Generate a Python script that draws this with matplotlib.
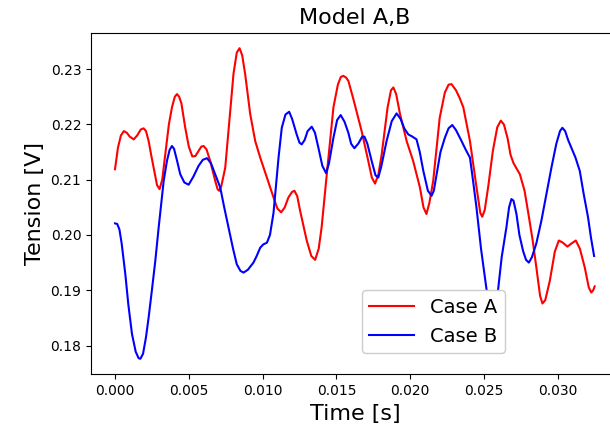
import numpy as np
import matplotlib
matplotlib.use("Agg")
import matplotlib.pyplot as plt

# Case A (red): time in ms, tension in V
time_a_ms = [0.0, 0.2, 0.4, 0.6, 0.8, 1.0, 1.27, 1.5, 1.75, 1.94, 2.1, 2.28, 2.45, 2.62,
             2.85, 3.02, 3.2, 3.41, 3.65, 3.86, 4.05, 4.2, 4.35, 4.5, 4.76, 5.0, 5.24,
             5.45, 5.66, 5.85, 6.0, 6.2, 6.45, 6.79, 6.95, 7.06, 7.2, 7.47, 7.69, 8.03,
             8.25, 8.44, 8.62, 8.82, 9.16, 9.5, 9.84, 10.29, 10.74, 11.0, 11.26, 11.5,
             11.75, 12.0, 12.16, 12.35, 12.54, 12.99, 13.3, 13.56, 13.8, 14.0, 14.35, 14.8,
             15.1, 15.3, 15.47, 15.65, 15.81, 16.15, 16.71, 17.16, 17.4, 17.62, 17.85,
             18.07, 18.47, 18.7, 18.86, 19.05, 19.31, 19.76, 20.2, 20.66, 20.9, 21.1, 21.3,
             21.56, 22.0, 22.35, 22.6, 22.8, 23.1, 23.35, 23.6, 24.05, 24.5, 24.75, 24.88,
             25.05, 25.3, 25.6, 25.9, 26.14, 26.35, 26.6, 26.8, 27.0, 27.43, 27.75, 28.0,
             28.3, 28.55, 28.8, 28.96, 29.15, 29.46, 29.8, 30.07, 30.35, 30.65, 30.95,
             31.22, 31.5, 31.83, 32.1, 32.27, 32.4, 32.5]
case_a = [0.2119, 0.2158, 0.2180, 0.2188, 0.2185, 0.2178, 0.2173, 0.2180, 0.2191, 0.2193,
          0.2188, 0.2170, 0.2145, 0.2122, 0.2090, 0.2083, 0.2100, 0.2146, 0.2200, 0.2231,
          0.2250, 0.2255, 0.2250, 0.2238, 0.2194, 0.2160, 0.2142, 0.2143, 0.2152, 0.2160,
          0.2161, 0.2155, 0.2134, 0.2098, 0.2083, 0.2080, 0.2088, 0.2122, 0.2188, 0.2292,
          0.2330, 0.2338, 0.2325, 0.2291, 0.2219, 0.2170, 0.2140, 0.2104, 0.2068, 0.2048,
          0.2041, 0.2050, 0.2068, 0.2078, 0.2080, 0.2070, 0.2044, 0.1990, 0.1962, 0.1955,
          0.1975, 0.2014, 0.2110, 0.2231, 0.2272, 0.2286, 0.2288, 0.2285, 0.2279, 0.2246,
          0.2188, 0.2134, 0.2104, 0.2093, 0.2110, 0.2146, 0.2231, 0.2262, 0.2267, 0.2255,
          0.2219, 0.2170, 0.2134, 0.2086, 0.2050, 0.2038, 0.2058, 0.2098, 0.2212, 0.2258,
          0.2272, 0.2273, 0.2262, 0.2248, 0.2231, 0.2170, 0.2085, 0.2040, 0.2033, 0.2045,
          0.2090, 0.2152, 0.2195, 0.2207, 0.2200, 0.2175, 0.2145, 0.2130, 0.2110, 0.2080,
          0.2040, 0.1990, 0.1941, 0.1890, 0.1876, 0.1882, 0.1917, 0.1970, 0.1990, 0.1986,
          0.1979, 0.1985, 0.1990, 0.1975, 0.1941, 0.1905, 0.1896, 0.1900, 0.1907]

# Case B (blue)
time_b_ms = [0.0, 0.15, 0.3, 0.45, 0.7, 0.9, 1.15, 1.4, 1.6, 1.72, 1.9, 2.1, 2.28, 2.5,
             2.73, 2.96, 3.3, 3.52, 3.7, 3.86, 4.0, 4.2, 4.42, 4.7, 4.99, 5.3, 5.66, 5.95,
             6.23, 6.5, 6.79, 7.13, 7.4, 7.69, 8.0, 8.25, 8.5, 8.71, 9.0, 9.38, 9.6, 9.84,
             10.05, 10.29, 10.5, 10.74, 11.08, 11.3, 11.55, 11.8, 12.0, 12.31, 12.5, 12.65,
             12.85, 13.05, 13.33, 13.55, 13.78, 14.05, 14.3, 14.5, 14.8, 15.05, 15.29,
             15.55, 15.81, 16.0, 16.22, 16.5, 16.75, 16.9, 17.1, 17.39, 17.65, 17.84, 18.05,
             18.4, 18.75, 19.08, 19.35, 19.6, 19.87, 20.15, 20.43, 20.65, 20.89, 21.2,
             21.45, 21.6, 21.79, 22.05, 22.35, 22.6, 22.85, 23.1, 23.48, 23.75, 24.05,
             24.25, 24.49, 24.8, 25.17, 25.55, 25.96, 26.2, 26.52, 26.7, 26.86, 27.0, 27.2,
             27.4, 27.65, 27.85, 28.04, 28.25, 28.55, 28.89, 29.2, 29.57, 29.9, 30.15,
             30.31, 30.5, 30.7, 30.92, 31.2, 31.49, 31.75, 32.05, 32.25, 32.46]
case_b = [0.2021, 0.2020, 0.2010, 0.1985, 0.1929, 0.1875, 0.1821, 0.1789, 0.1777, 0.1776,
          0.1785, 0.1815, 0.1851, 0.1900, 0.1953, 0.2014, 0.2098, 0.2134, 0.2154, 0.2161,
          0.2156, 0.2135, 0.2110, 0.2095, 0.2091, 0.2105, 0.2125, 0.2136, 0.2139, 0.2130,
          0.2110, 0.2086, 0.2050, 0.2014, 0.1975, 0.1947, 0.1935, 0.1932, 0.1937, 0.1950,
          0.1962, 0.1977, 0.1983, 0.1986, 0.2000, 0.2040, 0.2140, 0.2194, 0.2218, 0.2223,
          0.2210, 0.2182, 0.2167, 0.2164, 0.2172, 0.2188, 0.2196, 0.2185, 0.2158, 0.2125,
          0.2112, 0.2130, 0.2176, 0.2208, 0.2217, 0.2205, 0.2185, 0.2165, 0.2157, 0.2166,
          0.2178, 0.2178, 0.2165, 0.2134, 0.2108, 0.2104, 0.2125, 0.2170, 0.2206, 0.2220,
          0.2210, 0.2193, 0.2182, 0.2178, 0.2173, 0.2150, 0.2116, 0.2080, 0.2071, 0.2080,
          0.2110, 0.2150, 0.2176, 0.2193, 0.2199, 0.2190, 0.2170, 0.2155, 0.2140, 0.2100,
          0.2050, 0.1975, 0.1902, 0.1845, 0.1902, 0.1960, 0.2014, 0.2050, 0.2065, 0.2062,
          0.2038, 0.2000, 0.1971, 0.1955, 0.1950, 0.1960, 0.1985, 0.2026, 0.2070, 0.2122,
          0.2165, 0.2188, 0.2194, 0.2188, 0.2172, 0.2158, 0.2140, 0.2116, 0.2075, 0.2032,
          0.1995, 0.1962]

title = "Model A,B"
xlabel = "Time [s]"
ylabel = "Tension [V]"
labels = ["Case A", "Case B"]

t_a = np.array(time_a_ms) / 1000.0
t_b = np.array(time_b_ms) / 1000.0

fig = plt.figure(figsize=(6.1, 4.37), dpi=100)
ax = fig.add_axes([0.1492, 0.1435, 0.865, 0.7817])
ax.plot(t_a, case_a, color="red", lw=1.5, label=labels[0])
ax.plot(t_b, case_b, color="blue", lw=1.5, label=labels[1])
ax.set_title(title, fontsize=16)
ax.set_xlabel(xlabel, fontsize=16)
ax.set_ylabel(ylabel, fontsize=16)
ax.tick_params(labelsize=10)
ax.legend(loc="lower left", bbox_to_anchor=(0.513, 0.0615), borderaxespad=0,
          fontsize=14, handlelength=2.3, framealpha=1.0)
fig.savefig("out.png", dpi=100)
